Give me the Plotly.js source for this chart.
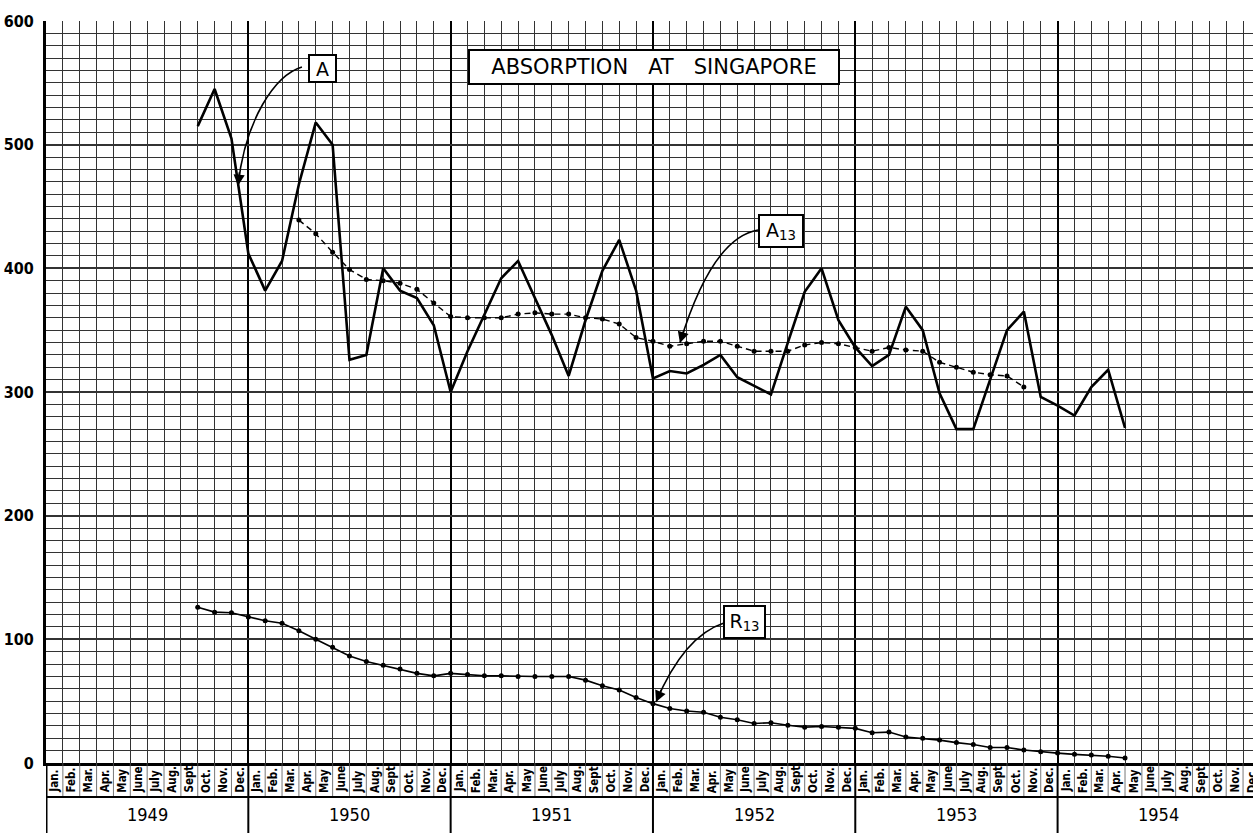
<!DOCTYPE html>
<html>
<head>
<meta charset="utf-8">
<script src="https://cdn.plot.ly/plotly-3.0.1.min.js"></script>
<style>
  html, body { margin: 0; padding: 0; background: #fff; overflow: hidden; }
  #chart { width: 1253px; height: 833px; }
</style>
</head>
<body>
<div id="chart"></div>
<script>
// ---- Data ----
// x positions are month-end gridlines counted from Jan 1949 (0 = start of Jan 1949)
const MONTHS = ['Jan.', 'Feb.', 'Mar.', 'Apr.', 'May', 'June', 'July', 'Aug.', 'Sept.', 'Oct.', 'Nov.', 'Dec.'];
const YEARS = ['1949', '1950', '1951', '1952', '1953', '1954'];
const Y_TICKS = [0, 100, 200, 300, 400, 500, 600];

// A : monthly absorption, end Sept. 1949 .. end Apr. 1954
const A_START = 9;
const A_VALUES = [515, 545, 505, 412, 382, 406, 468, 518, 500, 326,
                  330, 400, 382, 376, 354, 300, 333, 362, 392, 406,
                  376, 346, 313, 358, 398, 423, 382, 311, 317, 315,
                  322, 330, 312, 305, 298, 340, 381, 400, 358, 336,
                  321, 330, 369, 350, 299, 270, 270, 310, 350, 365,
                  296, 289, 281, 304, 318, 271];

// A13 : end Mar. 1950 .. end Oct. 1953
const A13_START = 15;
const A13_VALUES = [439, 428, 413, 399, 391, 390, 388, 383, 372, 361,
                    360, 360, 360, 363, 364, 363, 363, 360, 359, 355,
                    344, 341, 337, 339, 341, 341, 337, 333, 333, 333,
                    338, 340, 339, 336, 333, 336, 334, 333, 324, 320,
                    316, 314, 313, 304];

// R13 : end Sept. 1949 .. end Apr. 1954
const R13_START = 9;
const R13_VALUES = [126, 122, 121.5, 118, 115, 113, 107, 100, 93.5, 86.5,
                    82, 79, 76, 72.5, 70.5, 72.5, 71.5, 70.5, 70.5, 70,
                    70, 70, 70, 67, 62.5, 59, 53, 48, 44, 42,
                    41, 37, 35, 32, 32.5, 30.5, 29, 29.5, 29, 28,
                    24.5, 25, 21, 20, 18.5, 16.5, 15, 12.5, 12.5, 10.5,
                    9, 8, 7, 6.5, 5.5, 4];

const TITLE = 'ABSORPTION&nbsp;&nbsp;&nbsp;AT&nbsp;&nbsp;&nbsp;SINGAPORE';

// ---- build ----
const xs = (start, arr) => arr.map((_, i) => start + i);

const traces = [
  {
    x: xs(A_START, A_VALUES), y: A_VALUES, type: 'scatter', mode: 'lines',
    line: { color: '#000', width: 2.6 }, name: 'A', hoverinfo: 'skip'
  },
  {
    x: xs(A13_START, A13_VALUES), y: A13_VALUES, type: 'scatter', mode: 'lines+markers',
    line: { color: '#000', width: 1.4, dash: '6px,4px' },
    marker: { color: '#000', size: 5 }, name: 'A13', hoverinfo: 'skip'
  },
  {
    x: xs(R13_START, R13_VALUES), y: R13_VALUES, type: 'scatter', mode: 'lines+markers',
    line: { color: '#000', width: 1.6 },
    marker: { color: '#000', size: 5 }, name: 'R13', hoverinfo: 'skip'
  }
];

const NMONTHS = YEARS.length * 12;
const bandMid = -0.0458;   // paper y of line between month band and year band
const bandBot = -0.0943;   // paper y of bottom edge

const shapes = [];
const annotations = [];
const condensed = 'DejaVu Sans Condensed, Liberation Sans Narrow, DejaVu Sans, sans-serif';

// month separators in the label band
for (let k = 1; k < NMONTHS; k++) {
  if (k % 12 === 0) continue;
  shapes.push({ type: 'line', xref: 'x', yref: 'paper', x0: k, x1: k, y0: 0, y1: bandMid,
                line: { color: '#555', width: 0.8 }, layer: 'above' });
}
// year separators
for (let k = 0; k <= NMONTHS; k += 12) {
  shapes.push({ type: 'line', xref: 'x', yref: 'paper', x0: k, x1: k, y0: 0, y1: bandBot - 0.01,
                line: { color: '#000', width: k === 0 ? 3 : 2 }, layer: 'above' });
}
// horizontal line between month and year rows
shapes.push({ type: 'line', xref: 'paper', yref: 'paper', x0: 0, x1: 1.01, y0: bandMid, y1: bandMid,
              line: { color: '#000', width: 2 }, layer: 'above' });

// month labels
for (let k = 0; k < NMONTHS; k++) {
  annotations.push({
    xref: 'x', yref: 'paper', x: k + 0.5, y: bandMid + 0.003,
    xanchor: 'center', yanchor: 'bottom', textangle: -90, showarrow: false,
    text: '<b>' + MONTHS[k % 12] + '</b>',
    font: { family: condensed, size: 11.5, color: '#000' }
  });
}
// year labels
YEARS.forEach((yr, i) => {
  annotations.push({
    xref: 'x', yref: 'paper', x: i * 12 + 6, y: (bandMid + bandBot) / 2,
    xanchor: 'center', yanchor: 'middle', showarrow: false,
    text: yr, font: { family: condensed, size: 18, color: '#000' }
  });
});

// boxed labels
function box(text, x, y, w, h, size) {
  annotations.push({
    xref: 'x', yref: 'y', x: x, y: y, xanchor: 'center', yanchor: 'middle',
    showarrow: false, text: text, width: w, height: h,
    bgcolor: '#fff', bordercolor: '#000', borderwidth: 2, borderpad: 1,
    font: { family: 'DejaVu Sans, sans-serif', size: size, color: '#000' }
  });
}
box(TITLE, 36.06, 562.8, 366, 30, 21);
box('A', 16.4, 561.6, 23, 23, 19);
box('A<sub>13</sub>', 43.62, 430.2, 40, 28, 19);
box('R<sub>13</sub>', 41.4, 114, 37, 28, 19);

// curved leaders + arrowheads
function leader(path, tipX, tipY, ax, ay) {
  shapes.push({ type: 'path', xref: 'x', yref: 'y', path: path,
                line: { color: '#000', width: 1.6 }, layer: 'above' });
  annotations.push({
    xref: 'x', yref: 'y', x: tipX, y: tipY, text: '', showarrow: true,
    arrowhead: 2, arrowsize: 1.4, arrowwidth: 1.6, arrowcolor: '#000',
    ax: ax, ay: ay, standoff: 0
  });
}
leader('M 15.18,562.8 C 13.58,556.3 11.80,519.9 11.39,466.7', 11.39, 466.7, 1.5, -15);
leader('M 42.23,431 Q 39.50,424.5 37.60,339.6', 37.60, 339.6, 4.4, -14.3);
leader('M 40.21,113.2 Q 37.84,102.7 36.18,49.3', 36.18, 49.3, 5.9, -13.8);

const layout = {
  width: 1253, height: 833,
  margin: { l: 46, r: 0, t: 21, b: 70, pad: 0 },
  paper_bgcolor: '#fff', plot_bgcolor: '#fff',
  showlegend: false,
  xaxis: {
    range: [0, 71.59], showticklabels: false, ticks: '',
    showgrid: true, tick0: 0, dtick: 12, gridcolor: '#000', gridwidth: 2,
    minor: { tick0: 0, dtick: 1, showgrid: true, gridcolor: '#333', gridwidth: 1 },
    zeroline: false, showline: true, linecolor: '#000', linewidth: 2.5
  },
  yaxis: {
    range: [0, 600], tickvals: Y_TICKS, ticktext: Y_TICKS.map(String), ticks: '',
    showgrid: true, gridcolor: '#333', gridwidth: 2,
    minor: { tick0: 0, dtick: 10, showgrid: true, gridcolor: '#333', gridwidth: 1 },
    zeroline: false, showline: true, linecolor: '#000', linewidth: 3, mirror: false,
    ticklabelstandoff: 6,
    tickfont: { family: condensed, size: 16, color: '#000', weight: 'bold' }
  },
  shapes: shapes,
  annotations: annotations
};

Plotly.newPlot('chart', traces, layout, { displayModeBar: false, staticPlot: true });
</script>
</body>
</html>
